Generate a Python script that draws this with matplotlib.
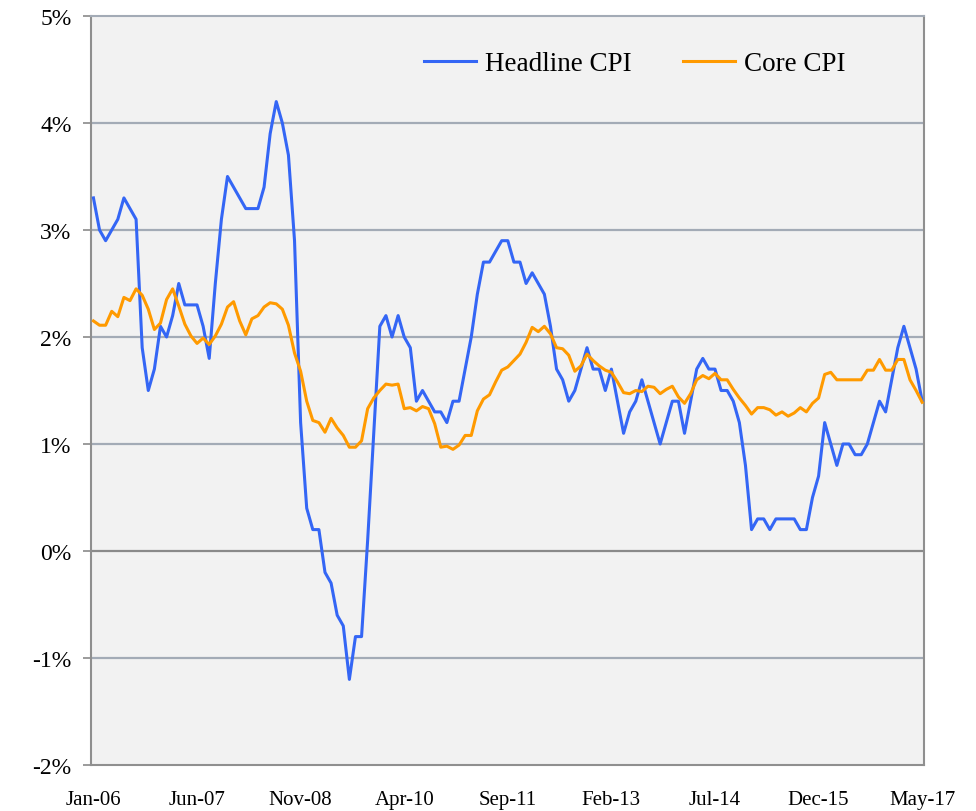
# ==========================================================
# Headline vs Core CPI (year-over-year, monthly)
# ==========================================================

import matplotlib
matplotlib.use("Agg")
import matplotlib.pyplot as plt

# ----------------------------------------------------------
# Data (Jan-06 .. May-17)
# ----------------------------------------------------------

tick_labels = ["Jan-06", "Jun-07", "Nov-08", "Apr-10", "Sep-11",
               "Feb-13", "Jul-14", "Dec-15", "May-17"]

headline = [
    3.3, 3.0, 2.9, 3.0, 3.1, 3.3, 3.2, 3.1, 1.9, 1.5, 1.7, 2.1,
    2.0, 2.2, 2.5, 2.3, 2.3, 2.3, 2.1, 1.8, 2.5, 3.1, 3.5, 3.4,
    3.3, 3.2, 3.2, 3.2, 3.4, 3.9, 4.2, 4.0, 3.7, 2.9, 1.2, 0.4,
    0.2, 0.2, -0.2, -0.3, -0.6, -0.7, -1.2, -0.8, -0.8, 0.1, 1.1, 2.1,
    2.2, 2.0, 2.2, 2.0, 1.9, 1.4, 1.5, 1.4, 1.3, 1.3, 1.2, 1.4,
    1.4, 1.7, 2.0, 2.4, 2.7, 2.7, 2.8, 2.9, 2.9, 2.7, 2.7, 2.5,
    2.6, 2.5, 2.4, 2.1, 1.7, 1.6, 1.4, 1.5, 1.7, 1.9, 1.7, 1.7,
    1.5, 1.7, 1.4, 1.1, 1.3, 1.4, 1.6, 1.4, 1.2, 1.0, 1.2, 1.4,
    1.4, 1.1, 1.4, 1.7, 1.8, 1.7, 1.7, 1.5, 1.5, 1.4, 1.2, 0.8,
    0.2, 0.3, 0.3, 0.2, 0.3, 0.3, 0.3, 0.3, 0.2, 0.2, 0.5, 0.7,
    1.2, 1.0, 0.8, 1.0, 1.0, 0.9, 0.9, 1.0, 1.2, 1.4, 1.3, 1.6,
    1.9, 2.1, 1.9, 1.7, 1.4,
]

core = [
    2.15, 2.11, 2.11, 2.24, 2.19, 2.37, 2.34, 2.45, 2.39, 2.26, 2.07, 2.13,
    2.35, 2.45, 2.29, 2.12, 2.01, 1.94, 1.99, 1.93, 2.01, 2.12, 2.28, 2.33,
    2.15, 2.02, 2.17, 2.20, 2.28, 2.32, 2.31, 2.26, 2.11, 1.85, 1.68, 1.40,
    1.22, 1.20, 1.11, 1.24, 1.15, 1.08, 0.97, 0.97, 1.03, 1.33, 1.43, 1.50,
    1.56, 1.55, 1.56, 1.33, 1.34, 1.31, 1.35, 1.33, 1.19, 0.97, 0.98, 0.95,
    0.99, 1.08, 1.08, 1.31, 1.42, 1.46, 1.58, 1.69, 1.72, 1.78, 1.84, 1.95,
    2.09, 2.05, 2.10, 2.03, 1.90, 1.89, 1.83, 1.68, 1.73, 1.84, 1.78, 1.73,
    1.69, 1.67, 1.58, 1.48, 1.47, 1.50, 1.49, 1.54, 1.53, 1.47, 1.51, 1.54,
    1.44, 1.38, 1.47, 1.60, 1.64, 1.61, 1.66, 1.60, 1.60, 1.51, 1.43, 1.36,
    1.28, 1.34, 1.34, 1.32, 1.27, 1.30, 1.26, 1.29, 1.34, 1.30, 1.38, 1.43,
    1.65, 1.67, 1.60, 1.60, 1.60, 1.60, 1.60, 1.69, 1.69, 1.79, 1.69, 1.69,
    1.79, 1.79, 1.60, 1.50, 1.39,
]

y_ticks = [-2, -1, 0, 1, 2, 3, 4, 5]

months = list(range(len(headline)))
tick_pos = list(range(0, len(headline), 17))

# ----------------------------------------------------------
# Figure
# ----------------------------------------------------------

plt.rcParams["font.family"] = ["Liberation Serif", "DejaVu Serif"]

fig = plt.figure(figsize=(9.76, 8.12), dpi=100)
ax = fig.add_axes([91 / 976, 46 / 812, 833 / 976, 749 / 812])
ax.set_facecolor("#f2f2f2")

for v in y_ticks:
    if v == 0:
        ax.axhline(v, color="#8a8a8a", lw=1.6, zorder=1)
    elif v not in (-2, 5):
        ax.axhline(v, color="#a3abb6", lw=1.6, zorder=1)

ax.plot(months, headline, color="#3466f5", lw=2.2, label="Headline CPI", zorder=3)
ax.plot(months, core, color="#ff9a00", lw=2.2, label="Core CPI", zorder=3)

ax.set_xlim(-0.4, 136.3)
ax.set_ylim(-2, 5)

ax.set_xticks(tick_pos)
ax.set_xticklabels(tick_labels, fontsize=15)
ax.set_yticks(y_ticks)
ax.set_yticklabels([f"{v}%" for v in y_ticks], fontsize=17)

ax.tick_params(axis="x", length=0, pad=18)
ax.tick_params(axis="y", length=6, width=1.2, color="#8a8a8a", pad=8)

for side in ["left", "right", "bottom", "top"]:
    ax.spines[side].set_color("#8f8f8f")
    ax.spines[side].set_linewidth(1.5)
ax.spines["top"].set_color("#a3abb6")

ax.legend(loc="center", bbox_to_anchor=(0.653, 0.936), ncol=2,
          frameon=False, fontsize=19.5, handlelength=1.9,
          columnspacing=1.9, handletextpad=0.35)

plt.savefig("out.png", dpi=100)
plt.close()

print("Chart Saved")
